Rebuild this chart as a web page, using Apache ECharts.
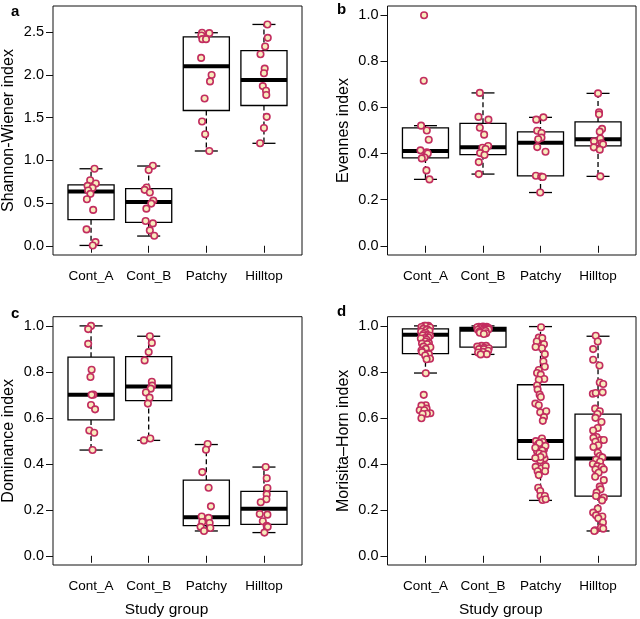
<!DOCTYPE html>
<html>
<head>
<meta charset="utf-8">
<script src="https://cdn.jsdelivr.net/npm/echarts@6/dist/echarts.min.js"></script>
<style>
html,body{margin:0;padding:0;background:#fff;}
#chart{width:640px;height:619px;}
</style>
</head>
<body>
<div id="chart"></div>
<script>
// ---------------- DATA ----------------
const groups = ['Cont_A', 'Cont_B', 'Patchy', 'Hilltop'];

// Panel a: Shannon-Wiener index
const shannonContA   = [0.902, 0.768, 0.729, 0.702, 0.678, 0.647, 0.608, 0.545, 0.42, 0.192, 0.043, 0.004];
const shannonContB   = [0.938, 0.886, 0.682, 0.655, 0.624, 0.529, 0.494, 0.435, 0.29, 0.262, 0.18, 0.118];
const shannonPatchy  = [2.495, 2.49, 2.463, 2.42, 2.42, 2.2, 2.0, 1.925, 1.725, 1.455, 1.306, 1.11];
const shannonHilltop = [2.592, 2.435, 2.333, 2.243, 2.075, 2.02, 1.87, 1.815, 1.765, 1.51, 1.38, 1.2];
// box stats: [lower whisker, Q1, median, Q3, upper whisker]
const shannonBoxes = [
  [0.004, 0.306, 0.635, 0.714, 0.902],
  [0.114, 0.274, 0.514, 0.670, 0.934],
  [1.11, 1.584, 2.102, 2.447, 2.495],
  [1.2, 1.643, 1.94, 2.286, 2.592]
];

// Panel b: Evennes index
const evenContA   = [1.0, 0.716, 0.521, 0.5, 0.46, 0.414, 0.405, 0.40, 0.383, 0.379, 0.327, 0.288];
const evenContB   = [0.663, 0.559, 0.547, 0.512, 0.482, 0.433, 0.425, 0.42, 0.402, 0.394, 0.363, 0.311];
const evenPatchy  = [0.557, 0.547, 0.499, 0.489, 0.469, 0.462, 0.428, 0.408, 0.304, 0.3, 0.298, 0.231];
const evenHilltop = [0.661, 0.579, 0.57, 0.507, 0.495, 0.465, 0.453, 0.445, 0.44, 0.427, 0.417, 0.301];
const evenBoxes = [
  [0.288, 0.381, 0.411, 0.511, 0.521],
  [0.311, 0.395, 0.427, 0.531, 0.663],
  [0.231, 0.303, 0.447, 0.494, 0.557],
  [0.301, 0.433, 0.462, 0.537, 0.661]
];

// Panel c: Dominance index
const domContA   = [1.0, 0.986, 0.922, 0.809, 0.778, 0.701, 0.7, 0.656, 0.637, 0.545, 0.535, 0.46];
const domContB   = [0.955, 0.926, 0.886, 0.85, 0.757, 0.74, 0.727, 0.71, 0.688, 0.662, 0.51, 0.502];
const domPatchy  = [0.486, 0.461, 0.364, 0.296, 0.215, 0.171, 0.165, 0.147, 0.143, 0.126, 0.121, 0.108];
const domHilltop = [0.386, 0.337, 0.295, 0.267, 0.246, 0.233, 0.182, 0.179, 0.15, 0.13, 0.126, 0.101];
const domBoxes = [
  [0.46, 0.591, 0.701, 0.864, 1.0],
  [0.502, 0.675, 0.736, 0.866, 0.955],
  [0.108, 0.131, 0.168, 0.329, 0.484],
  [0.101, 0.137, 0.205, 0.28, 0.386]
];

// Panel d: Morisita-Horn index
const mhContA = [1.0, 1.0, 1.0, 0.995, 0.993, 0.987, 0.985, 0.982, 0.978, 0.975, 0.97, 0.965, 0.96, 0.958, 0.957,
  0.95, 0.947, 0.945, 0.94, 0.932, 0.925, 0.923, 0.92, 0.91, 0.907, 0.9, 0.893, 0.886, 0.88, 0.877, 0.871, 0.857,
  0.855, 0.794, 0.70, 0.655, 0.653, 0.64, 0.633, 0.633, 0.62, 0.618, 0.617, 0.598];
const mhContB = [0.997, 0.996, 0.996, 0.994, 0.994, 0.993, 0.991, 0.99, 0.988, 0.986, 0.984, 0.983, 0.982, 0.981,
  0.978, 0.975, 0.97, 0.968, 0.965, 0.913, 0.913, 0.91, 0.905, 0.903, 0.899, 0.899, 0.892, 0.887, 0.884, 0.877, 0.876];
const mhPatchy = [0.994, 0.949, 0.947, 0.932, 0.92, 0.908, 0.903, 0.877, 0.845, 0.822, 0.808, 0.795, 0.788, 0.769,
  0.766, 0.741, 0.723, 0.701, 0.691, 0.662, 0.655, 0.624, 0.629, 0.603, 0.587, 0.51, 0.499, 0.484, 0.475, 0.462,
  0.455, 0.434, 0.423, 0.423, 0.415, 0.387, 0.38, 0.39, 0.368, 0.368, 0.351, 0.296, 0.282, 0.26, 0.26, 0.243, 0.246,
  0.495, 0.49, 0.478, 0.47, 0.458, 0.445, 0.44, 0.43, 0.425];
const mhHilltop = [0.957, 0.932, 0.899, 0.853, 0.828, 0.754, 0.747, 0.705, 0.708, 0.711, 0.64, 0.629, 0.617, 0.6,
  0.582, 0.556, 0.545, 0.517, 0.513, 0.503, 0.504, 0.496, 0.481, 0.473, 0.448, 0.434, 0.428, 0.418, 0.409, 0.399,
  0.39, 0.386, 0.376, 0.376, 0.361, 0.344, 0.329, 0.301, 0.289, 0.275, 0.26, 0.253, 0.241, 0.205, 0.188, 0.176,
  0.171, 0.163, 0.145, 0.123, 0.118, 0.111, 0.108];
const mhBoxes = [
  [0.795, 0.879, 0.962, 0.987, 1.0],
  [0.876, 0.908, 0.983, 0.993, 1.0],
  [0.241, 0.419, 0.499, 0.744, 0.997],
  [0.108, 0.26, 0.423, 0.616, 0.955]
];

// tick labels
const ticksShannon = [0, 0.5, 1.0, 1.5, 2.0, 2.5];
const ticksUnit = [0, 0.2, 0.4, 0.6, 0.8, 1.0];

// horizontal jitter offsets of the points
const jitShannon = [
  [0.06, -0.015, 0.083, -0.06, 0.026, -0.05, -0.01, -0.072, 0.037, -0.078, 0.077, 0.03],
  [0.073, 0, -0.036, -0.07, 0.02, 0.08, 0.045, -0.04, -0.053, 0.073, 0.02, 0.097],
  [-0.074, 0.052, -0.086, -0.069, -0.005, -0.09, 0.092, 0.064, -0.03, -0.074, -0.02, 0.052],
  [0.06, 0.066, 0.02, -0.06, 0.013, 0, -0.02, 0.036, 0.04, 0.048, 0, -0.067]
];
const jitEven = [
  [-0.024, -0.03, -0.076, 0.023, 0.057, -0.087, 0.023, 0.04, -0.017, -0.064, 0.017, 0.07],
  [-0.055, -0.078, 0.095, -0.055, 0.02, 0.09, -0.01, 0.045, -0.05, 0.026, -0.073, -0.073],
  [0.05, -0.074, -0.057, 0.017, 0.017, -0.04, -0.057, 0.087, -0.08, 0.012, 0.04, -0.005],
  [0, 0.017, 0.017, 0.07, 0.03, 0.04, -0.07, 0.06, 0.087, -0.074, 0.03, 0.04]
];
const jitDom = [
  [0.0, -0.05, -0.05, 0.01, -0.01, 0.04, 0.01, 0, 0.07, -0.03, 0.055, 0.026],
  [0.02, 0.055, 0, -0.07, 0.055, 0.06, 0.035, -0.048, 0.016, -0.014, 0.028, -0.083],
  [0.023, -0.006, -0.07, 0.04, 0.08, -0.08, 0.04, -0.07, 0.058, -0.1, 0.069, -0.04],
  [0.03, 0.048, 0.06, 0.048, 0.042, -0.056, -0.073, 0.06, -0.02, 0.048, 0.065, 0.008]
];
const jitMH = [
  [-0.02, 0.05, 0.005, -0.07, 0.08, -0.04, 0.03, 0.02, 0.07, -0.075, 0.0, -0.03, 0.035, -0.05, 0.08,
   0.05, -0.01, -0.08, 0.02, 0.005, 0.06, -0.06, 0.03, -0.035, 0.085, 0.005, -0.07, -0.06, 0.045, 0.06, -0.005, 0.08,
   0.02, 0.005, -0.03, 0.005, -0.07, 0.02, -0.1, -0.02, 0.085, 0.025, -0.05, -0.07],
  [0, -0.07, 0.065, -0.03, -0.1, 0.035, 0.1, -0.05, 0.025, 0.08, 0.095, -0.09, 0.01, -0.02,
   0.045, -0.06, -0.055, 0.055, 0.015, -0.025, 0.055, -0.1, 0.02, 0.1, -0.07, 0.015, 0.09, 0, -0.085, 0.065, -0.04],
  [0.01, -0.03, 0.03, -0.065, 0.06, -0.085, 0.025, 0.075, 0.05, 0.075, -0.03, -0.06, 0.005, 0.065,
   -0.03, -0.06, -0.05, -0.015, 0.005, -0.09, -0.03, -0.005, 0.1, 0.06, 0.04, 0.025, -0.08, -0.045, 0.01, 0.06,
   -0.06, -0.035, 0.07, -0.065, -0.005, -0.085, 0.015, 0.09, -0.05, 0.08, -0.03, -0.04, -0.005, 0, 0.075, 0.035, 0.09,
   0.04, -0.02, 0.085, -0.09, 0.03, -0.02, 0.05, 0.0, -0.09],
  [-0.04, -0.005, -0.085, -0.085, 0.025, 0.03, 0.09, -0.09, -0.04, 0.08, -0.05, 0.03, -0.01, -0.045,
   0.06, -0.005, -0.085, -0.025, -0.08, 0.045, 0.1, -0.045, 0.005, -0.08, -0.005, 0.03, 0.075, -0.035, 0.035, -0.09,
   -0.01, 0.065, 0.1, -0.045, 0.01, -0.05, 0.1, 0.03, 0.045, -0.025, -0.035, 0.1, 0.07, -0.005, -0.085, -0.035,
   0.075, 0.005, 0.085, 0.05, 0.09, -0.05, -0.065]
];

// ---------------- CHART ----------------
const FONT = "'Liberation Sans', Arial, Helvetica, sans-serif";
const panels = [
  { values: [shannonContA, shannonContB, shannonPatchy, shannonHilltop], jit: jitShannon, boxes: shannonBoxes,
    ticks: ticksShannon, min: -0.108, max: 2.808, name: 'Shannon-Wiener index', letter: 'a', bottom: false },
  { values: [evenContA, evenContB, evenPatchy, evenHilltop], jit: jitEven, boxes: evenBoxes,
    ticks: ticksUnit, min: -0.04, max: 1.04, name: 'Evennes index', letter: 'b', bottom: false },
  { values: [domContA, domContB, domPatchy, domHilltop], jit: jitDom, boxes: domBoxes,
    ticks: ticksUnit, min: -0.04, max: 1.04, name: 'Dominance index', letter: 'c', bottom: true },
  { values: [mhContA, mhContB, mhPatchy, mhHilltop], jit: jitMH, boxes: mhBoxes,
    ticks: ticksUnit, min: -0.04, max: 1.04, name: 'Morisita\u2013Horn index', letter: 'd', bottom: true }
];
const gridPos = [
  { left: 52, top: 6, width: 250, height: 249 },
  { left: 387.5, top: 6, width: 248.5, height: 249 },
  { left: 52, top: 316.7, width: 250, height: 249 },
  { left: 387.5, top: 316.7, width: 248.5, height: 249 }
];
const letterPos = [[11, 4], [337, 2], [11, 306], [337, 304]];

const grids = [], xAxes = [], yAxes = [], series = [], graphics = [];
panels.forEach((p, i) => {
  grids.push(Object.assign({ show: true, borderColor: '#111', borderWidth: 1, backgroundColor: 'transparent' }, gridPos[i]));
  xAxes.push({
    gridIndex: i, type: 'value', min: 0.34, max: 4.66,
    axisLine: { show: false }, splitLine: { show: false },
    axisTick: { show: true, length: 7, customValues: [1, 2, 3, 4], lineStyle: { color: '#111', width: 1 } },
    axisLabel: { customValues: [1, 2, 3, 4], formatter: v => groups[Math.round(v) - 1], margin: 14,
      fontSize: 13.5, color: '#000', fontFamily: FONT },
    name: p.bottom ? 'Study group' : '', nameLocation: 'middle', nameGap: 37,
    nameTextStyle: { fontSize: 15.5, color: '#000', fontFamily: FONT, padding: [0, 22, 0, 0] }
  });
  yAxes.push({
    gridIndex: i, type: 'value', min: p.min, max: p.max,
    axisLine: { show: false }, splitLine: { show: false },
    axisTick: { show: true, length: 7, customValues: p.ticks, lineStyle: { color: '#111', width: 1 } },
    axisLabel: { customValues: p.ticks, formatter: v => v.toFixed(1), margin: 9,
      fontSize: 14.5, color: '#000', fontFamily: FONT },
    name: p.name, nameLocation: 'middle', nameGap: 36, nameRotate: 90,
    nameTextStyle: { fontSize: 16, color: '#000', fontFamily: FONT }
  });
  series.push({
    type: 'custom', xAxisIndex: i, yAxisIndex: i, silent: true, z: 2,
    data: p.boxes.map((b, g) => [g + 1].concat(b)),
    encode: { x: 0, y: [1, 2, 3, 4, 5] },
    renderItem: (params, api) => {
      const x = api.value(0);
      const pts = [1, 2, 3, 4, 5].map(k => api.coord([x, api.value(k)]));
      const cx = pts[2][0];
      const bw = api.size([0.8, 0])[0];
      const cap = bw / 4;
      const dash = { stroke: '#000', lineWidth: 1.3, lineDash: [5, 3], fill: null };
      const solid = { stroke: '#000', lineWidth: 1.3, fill: null };
      return {
        type: 'group',
        children: [
          { type: 'line', shape: { x1: cx, y1: pts[3][1], x2: cx, y2: pts[4][1] }, style: dash },
          { type: 'line', shape: { x1: cx, y1: pts[1][1], x2: cx, y2: pts[0][1] }, style: dash },
          { type: 'line', shape: { x1: cx - cap, y1: pts[4][1], x2: cx + cap, y2: pts[4][1] }, style: solid },
          { type: 'line', shape: { x1: cx - cap, y1: pts[0][1], x2: cx + cap, y2: pts[0][1] }, style: solid },
          { type: 'rect', shape: { x: cx - bw / 2, y: pts[3][1], width: bw, height: pts[1][1] - pts[3][1] },
            style: { fill: '#fff', stroke: '#000', lineWidth: 1.3 } },
          { type: 'line', shape: { x1: cx - bw / 2, y1: pts[2][1], x2: cx + bw / 2, y2: pts[2][1] },
            style: { stroke: '#000', lineWidth: 4 } }
        ]
      };
    }
  });
  const scatterData = [];
  p.values.forEach((vals, g) => {
    vals.forEach((v, k) => scatterData.push([g + 1 + (p.jit[g][k] || 0), v]));
  });
  series.push({
    type: 'scatter', xAxisIndex: i, yAxisIndex: i, silent: true, z: 3,
    symbol: 'circle', symbolSize: 6.5, data: scatterData,
    itemStyle: { color: '#f8ebbd', borderColor: '#c22d5f', borderWidth: 1.6, opacity: 1 }
  });
  graphics.push({
    type: 'text', left: letterPos[i][0], top: letterPos[i][1],
    style: { text: p.letter, font: 'bold 15px ' + FONT, fill: '#000' }
  });
});

const chart = echarts.init(document.getElementById('chart'), null, { renderer: 'canvas' });
chart.setOption({
  animation: false,
  backgroundColor: '#fff',
  grid: grids, xAxis: xAxes, yAxis: yAxes, series: series, graphic: graphics
});
</script>
</body>
</html>
